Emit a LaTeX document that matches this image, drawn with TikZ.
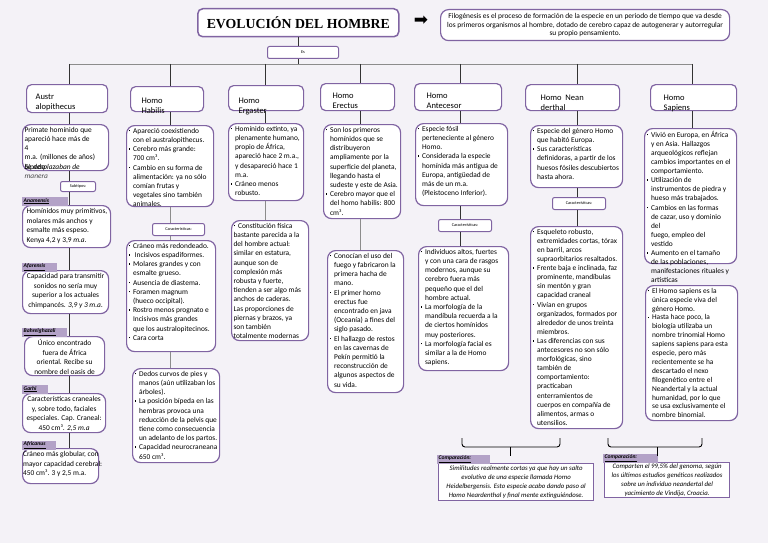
\documentclass[tikz,border=0pt]{standalone}
\usepackage{fontspec}
\setmainfont{Carlito}
\newfontfamily\titlefont{Liberation Serif}
\newfontfamily\symfont{DejaVu Sans}
\usetikzlibrary{positioning}

\definecolor{lila}{RGB}{128,100,162}
\definecolor{lilatag}{RGB}{179,162,199}
\definecolor{fondo}{RGB}{244,242,247}

% caja de texto con alto fijo, texto arriba
\newcommand\bx[3]{\parbox[c][\dimexpr#2pt-5pt\relax][t]{\dimexpr#1pt-4pt\relax}{\rightskip=-12pt\relax#3}}
\newcommand\vin{\raisebox{1.8pt}{\rule{1.6pt}{1.6pt}}}
\newcommand\itm{\par\noindent\hangindent=4.5pt\hangafter=1\makebox[4.5pt][l]{\vin}\ignorespaces}
\newcommand\itmx{\par\noindent\makebox[4.5pt][l]{\vin}\ignorespaces}
\newcommand\tg[2]{\makebox[\dimexpr#1pt-3pt\relax][l]{\underline{#2}}}
\newcommand\hd[3]{\vspace*{#2pt}\leftskip=#1pt\relax #3}

\begin{document}
\begin{tikzpicture}[x=1pt,y=-1pt,
  bubble/.style={draw=lila,line width=1.2pt,rounded corners=8pt,fill=white,
    inner xsep=2pt,inner ysep=2.5pt,anchor=north west,font=\fontsize{7.4}{9.2}\selectfont},
  subbox/.style={bubble,font=\fontsize{7.4}{9.8}\selectfont},
  head/.style={bubble,rounded corners=5pt,font=\fontsize{8.5}{10}\selectfont},
  mini/.style={draw=lila,line width=1pt,rounded corners=2pt,fill=white,inner sep=0pt,
    anchor=north west,font=\fontsize{4.3}{5}\selectfont},
  tag/.style={fill=lilatag,inner xsep=1.5pt,inner ysep=0pt,minimum height=9pt,
    font=\fontsize{5.6}{6}\selectfont\bfseries\itshape},
  cmpbox/.style={draw=lila,line width=1.2pt,fill=white,anchor=north west,align=center,
    inner sep=0pt,font=\fontsize{6.8}{8.8}\selectfont\itshape},
  link/.style={draw=black!80,line width=0.9pt},
  linkg/.style={draw=black!45,line width=0.9pt}]

\useasboundingbox (0,0) rectangle (768,543);
\fill[fondo] (0,0) rectangle (768,543);

% titulo y definicion
\node[bubble,rounded corners=5pt,line width=1.5pt,minimum width=201,minimum height=28,
  font={\titlefont\bfseries\fontsize{13.8}{15}\selectfont}] (titulo) at (197,8) {EVOLUCIÓN DEL HOMBRE};
\node[font=\symfont\fontsize{17}{17}\selectfont] (flecha) at (421,21) {➡};
\node[bubble,minimum width=289,minimum height=31,align=center,
  font=\fontsize{7.4}{8.5}\selectfont] (defi) at (440,9)
  {Filogénesis es el proceso de formación de la especie en un periodo de tiempo que va desde\\
   los primeros organismos al hombre, dotado de cerebro capaz de autogenerar y autorregular\\
   su propio pensamiento.};
\node[mini,minimum width=71,minimum height=12] (es) at (267,46) {Es};

\coordinate (c1) at (69,64);
\coordinate (c2) at (170,64);
\coordinate (c3) at (265,64);
\coordinate (c4) at (360,64);
\coordinate (c5) at (460,64);
\coordinate (c6) at (577,64);
\coordinate (c7) at (692,64);

% especies
\node[head] (aus) at (26,84) {\bx{81}{28}{\hd{7}{7}{Austr\\alopithecus}}};
\node[head] (hab) at (130,86) {\bx{73}{25}{\hd{9}{9}{Homo\\Habilis}}};
\node[head] (erg) at (228,85) {\bx{75}{25}{\hd{8}{10}{Homo\\Ergaster}}};
\node[head] (ere) at (320,83) {\bx{74}{27}{\hd{10}{7}{Homo\\Erectus}}};
\node[head] (ant) at (414,83) {\bx{87}{27}{\hd{10}{7}{Homo\\Antecesor}}};
\node[head] (nea) at (525,84) {\bx{94}{26}{\hd{13}{8}{Homo~~Nean\\derthal}}};
\node[head] (sap) at (650,84) {\bx{86}{26}{\hd{11}{8}{Homo\\Sapiens}}};

% Australopithecus
\node[bubble] (aus1) at (22,124) {\bx{86}{46}{Primate homínido que\\apareció hace más de\\4\\m.a. (millones de años)\\
  \rlap{bípedo}\textit{Se desplazaban de}\\\textcolor{black!70}{\textit{manera}}}};
\node[mini,minimum width=35,minimum height=10] (sub) at (60,181) {Subtipos:};
\node[subbox] (ana) at (22,205) {\bx{88}{42}{\leftskip=2pt Homínidos muy primitivos,\\molares más anchos y\\esmalte más espeso.\\Kenya 4,2 y 3,9 \textit{m.a.}}};
\node[subbox] (afa) at (22,270) {\bx{86}{43}{\centering Capacidad para transmitir\\sonidos no sería muy\\superior a los actuales\\chimpancés. \textit{3,9 y 3 m.a.}}};
\node[subbox] (bah) at (24,336) {\bx{80}{39}{\centering Único encontrado\\fuera de África\\oriental. Recibe su\\nombre del oasis de}};
\node[subbox] (gar) at (22,393) {\bx{83}{39}{\centering Características craneales\\y, sobre todo, faciales\\especiales. Cap. Craneal:\\450 cm³. \textit{2,5 m.a}}};
\node[subbox,inner xsep=0.5pt] (afr) at (22,448) {\bx{79}{35}{Cráneo más globular, con\\mayor capacidad cerebral:\\450 cm³. 3 y 2,5 m.a.}};
\node[tag] (tana) [above right=-1pt and 0pt of ana.north west] {\tg{46}{Anamensis}};
\node[tag] (tafa) [above right=-2pt and 0pt of afa.north west] {\tg{35}{Afarensis}};
\node[tag] (tbah) [above right=-1pt and -2pt of bah.north west] {\tg{45}{Bahrelghazali}};
\node[tag] (tgar) [above right=-1pt and 0pt of gar.north west] {\tg{26}{Garhi}};
\node[tag] (tafr) [above right=-2pt and 0pt of afr.north west] {\tg{34}{Africanus}};

% Homo Habilis
\node[bubble] (hab1) at (126,125) {\bx{87}{81}{\itm Apareció coexistiendo\\con el australopithecus.
  \itm Cerebro más grande:\\700 cm³.
  \itm Cambio en su forma de\\alimentación: ya no sólo\\comían frutas y\\vegetales sino también\\animales.}};
\node[mini,minimum width=52,minimum height=12] (car2) at (152,223) {Características:};
\node[bubble] (hab2) at (126,240) {\bx{89}{111}{\itm Cráneo más redondeado.
  \itm ~Incisivos espadiformes.
  \itm Molares grandes y con\\esmalte grueso.
  \itm Ausencia de diastema.
  \itm Foramen magnum\\(hueco occipital).
  \itm Rostro menos prognato e\\Incisivos más grandes\\que los australopitecinos.
  \itm Cara corta}};
\node[bubble] (hab3) at (132,368) {\bx{87}{94}{\itm Dedos curvos de pies y\\manos (aún utilizaban los\\árboles).
  \itm La posición bípeda en las\\hembras provoca una\\reducción de la pelvis que\\tiene como consecuencia\\un adelanto de los partos.
  \itm Capacidad neurocraneana\\650 cm³.}};

% Homo Ergaster
\node[bubble] (erg1) at (228,123) {\bx{75}{77}{\itm Homínido extinto, ya\\plenamente humano,\\propio de África,\\apareció hace 2 m.a.,\\y desapareció hace 1\\m.a.
  \itm Cráneo menos\\robusto.}};
\node[bubble] (erg2) at (231,220) {\bx{77}{120}{\itmx Constitución física\\bastante parecida a la\\del hombre actual:\\similar en estatura,\\aunque son de\\complexión más\\robusta y fuerte,\\tienden a ser algo más\\anchos de caderas.\\Las proporciones de\\piernas y brazos, ya\\son también\\totalmente modernas}};

% Homo Erectus
\node[bubble] (ere1) at (323,124) {\bx{77}{94}{\itm Son los primeros\\homínidos que se\\distribuyeron\\ampliamente por la\\superficie del planeta,\\llegando hasta el\\sudeste y este de Asia.
  \itm Cerebro mayor que el\\del homo habilis: 800\\cm³.}};
\node[bubble] (ere2) at (327,250) {\bx{76}{142}{\itm Conocían el uso del\\fuego y fabricaron la\\primera hacha de\\mano.
  \itm El primer homo\\erectus fue\\encontrado en java\\(Oceanía) a fines del\\siglo pasado.
  \itm El hallazgo de restos\\en las cavernas de\\Pekín permitió la\\reconstrucción de\\algunos aspectos de\\su vida.}};

% Homo Antecesor
\node[bubble] (ant1) at (415,123) {\bx{92}{82}{\itm Especie fósil\\perteneciente al género\\Homo.
  \itm Considerada la especie\\homínida más antigua de\\Europa, antigüedad de\\más de un m.a.\\(Pleistoceno Inferior).}};
\node[mini,minimum width=53,minimum height=12] (car5) at (438,219) {Características:};
\node[bubble] (ant2) at (418,246) {\bx{90}{124}{\itm Individuos altos, fuertes\\y con una cara de rasgos\\modernos, aunque su\\cerebro fuera más\\pequeño que el del\\hombre actual.
  \itm La morfología de la\\mandíbula recuerda a la\\de ciertos homínidos\\muy posteriores.
  \itm La morfología facial es\\similar a la de Homo\\sapiens.}};

% Homo Neanderthal
\node[bubble] (nea1) at (530,125) {\bx{92}{62}{\itm Especie del género Homo\\que habitó Europa.
  \itm Sus características\\definidoras, a partir de los\\huesos fósiles descubiertos\\hasta ahora.}};
\node[mini,minimum width=53,minimum height=12] (car6) at (552,197) {Características:};
\node[bubble,font=\fontsize{7.4}{9.1}\selectfont] (nea2) at (530,226) {\bx{92}{202}{\itm Esqueleto robusto,\\extremidades cortas, tórax\\en barril, arcos\\supraorbitarios resaltados.
  \itm Frente baja e inclinada, faz\\prominente, mandíbulas\\sin mentón y gran\\capacidad craneal
  \itm Vivían en grupos\\organizados, formados por\\alrededor de unos treinta\\miembros.
  \itm Las diferencias con sus\\antecesores no son sólo\\morfológicas, sino\\también de\\comportamiento:\\practicaban\\enterramientos de\\cuerpos en compañía de\\alimentos, armas o\\utensilios.}};

% Homo Sapiens
\node[bubble,font=\fontsize{7.4}{9.1}\selectfont] (sap1) at (644,128) {\bx{92}{135}{\itm Vivió en Europa, en África\\y en Asia. Hallazgos\\arqueológicos reflejan\\cambios importantes en el\\comportamiento.
  \itm Utilización de\\instrumentos de piedra y\\hueso más trabajados.
  \itm Cambios en las formas\\de cazar, uso y dominio\\del\\fuego, empleo del\\vestido
  \itm Aumento en el tamaño\\de las poblaciones,\\manifestaciones rituales y\\artísticas}};
\node[bubble,font=\fontsize{7.4}{8.9}\selectfont] (sap2) at (645,285) {\bx{92}{135}{\itm El Homo sapiens es la\\única especie viva del\\género Homo.
  \itm Hasta hace poco, la\\biología utilizaba un\\nombre trinomial Homo\\sapiens sapiens para esta\\especie, pero más\\recientemente se ha\\descartado el nexo\\filogenético entre el\\Neandertal y la actual\\humanidad, por lo que\\se usa exclusivamente el\\nombre binomial.}};

% comparaciones
\node[cmpbox,minimum width=155,minimum height=37] (cmp1) at (438,463)
  {Similitudes realmente cortas ya que hay un salto\\evolutivo de una especie llamada Homo\\
   Heidelbergensis. Esto especie acabo dando paso al\\Homo Neardenthal y final mente extinguiéndose.};
\node[cmpbox,minimum width=125,minimum height=35] (cmp2) at (604,462)
  {Comparten el 99,5\% del genoma, según\\los últimos estudios genéticos realizados\\
   sobre un individuo neandertal del\\yacimiento de Vindija, Croacia.};
\node[tag] (tcmp1) [above right=-1pt and -1pt of cmp1.north west] {\tg{53}{Comparación:}};
\node[tag] (tcmp2) [above right=-1pt and -1pt of cmp2.north west] {\tg{55}{Comparación:}};

% conectores
\draw[link] (titulo.south) -- (titulo.south |- es.north);
\draw[link] (titulo.south |- es.south) -- (titulo.south |- c1);
\draw[linkg] (c1) -- (c7);
\foreach \c/\h in {c1/aus,c2/hab,c3/erg,c4/ere,c5/ant,c6/nea,c7/sap}
  \draw[link] (\c) -- (\c |- \h.north);
\foreach \c/\h/\b in {c1/aus/aus1,c2/hab/hab1,c3/erg/erg1,c4/ere/ere1,c5/ant/ant1,c6/nea/nea1,c7/sap/sap1}
  \draw[link] (\c |- \h.south) -- (\c |- \b.north);
\foreach \a/\b in {aus1/sub,sub/ana,ana/afa,afa/bah,bah/gar,gar/afr}
  \draw[link] (c1 |- \a.south) -- (c1 |- \b.north);
\foreach \a/\b in {hab1/car2,car2/hab2,hab2/hab3}
  \draw[linkg] (c2 |- \a.south) -- (c2 |- \b.north);
\draw[linkg] (c3 |- erg1.south) -- (c3 |- erg2.north);
\draw[linkg] (c4 |- ere1.south) -- (c4 |- ere2.north);
\foreach \a/\b in {ant1/car5,car5/ant2}
  \draw[link] (c5 |- \a.south) -- (c5 |- \b.north);
\foreach \a/\b in {nea1/car6,car6/nea2}
  \draw[link] (c6 |- \a.south) -- (c6 |- \b.north);

% llaves sobre las comparaciones
\draw[link,black,rounded corners=3pt] (462,438) |- (560,447) -- (560,438);
\draw[link,black] (510,447) -- (510,456);
\draw[link,black,rounded corners=3pt] (608,438) |- (702,447) -- (702,438);
\draw[link,black] (657,447) -- (657,456);
\end{tikzpicture}
\end{document}
